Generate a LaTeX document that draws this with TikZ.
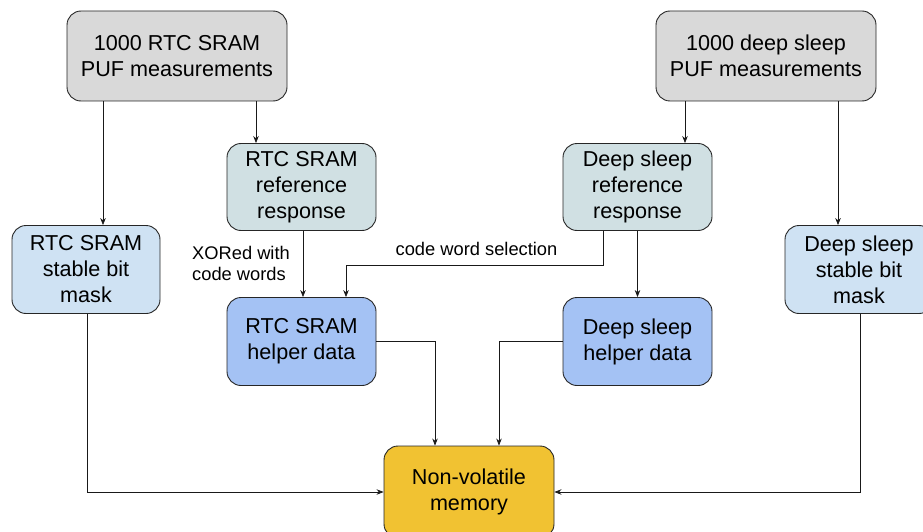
\documentclass[tikz,border=0pt]{standalone}
\usepackage{fontspec}
\setmainfont{Liberation Sans}
\usetikzlibrary{arrows.meta,calc}
\definecolor{pufgray}{HTML}{D9D9D9}
\definecolor{refcyan}{HTML}{D0E0E3}
\definecolor{maskblue}{HTML}{CFE2F3}
\definecolor{helpblue}{HTML}{A4C2F4}
\definecolor{memyellow}{HTML}{F1C232}
\begin{document}
\begin{tikzpicture}[x=1pt,y=-1pt,
  box/.style={draw=black!85, line width=0.9pt, rounded corners=14pt, align=center,
    font=\fontsize{21.6}{26}\selectfont, inner sep=0pt},
  arr/.style={draw=black!90, line width=0.7pt, -{Stealth[length=7pt,width=5.5pt]}},
  lbl/.style={font=\fontsize{18.3}{20.5}\selectfont, inner sep=0pt}]
\useasboundingbox (0,0) rectangle (923,532);
\clip (0,0) rectangle (923,532);

% measurement sources
\node[box, fill=pufgray, minimum width=220pt, minimum height=90pt] (pufA) at (177,56)
  {1000 RTC SRAM\\PUF measurements};
\node[box, fill=pufgray, minimum width=220pt, minimum height=90pt] (pufB) at (766,56)
  {1000 deep sleep\\PUF measurements};

% reference responses
\node[box, fill=refcyan, minimum width=149pt, minimum height=87pt] (refA) at (301.5,187)
  {RTC SRAM\\reference\\response};
\node[box, fill=refcyan, minimum width=149pt, minimum height=87pt] (refB) at (637.5,187)
  {Deep sleep\\reference\\response};

% stable bit masks
\node[box, fill=maskblue, minimum width=148pt, minimum height=88pt] (maskA) at (86,269.5)
  {RTC SRAM\\stable bit\\mask};
\node[box, fill=maskblue, minimum width=148pt, minimum height=88pt] (maskB) at (859,269.5)
  {Deep sleep\\stable bit\\mask};

% helper data
\node[box, fill=helpblue, minimum width=149pt, minimum height=88pt] (helpA) at (301.5,341.5)
  {RTC SRAM\\helper data};
\node[box, fill=helpblue, minimum width=149pt, minimum height=88pt] (helpB) at (637.5,341.5)
  {Deep sleep\\helper data};

% storage
\node[box, fill=memyellow, minimum width=170pt, minimum height=92pt] (nvm) at (469,492)
  {Non-volatile\\memory};

% labels
\node[lbl, align=left, anchor=west] (xorlbl) at (192,263.5) {XORed with\\code words};
\node[lbl] (cwlbl) at (476.5,248.5) {code word selection};

% connectors
\draw[arr] ([xshift=-74pt]pufA.south) -- ([xshift=-74pt]pufA.south |- maskA.north);
\draw[arr] ([xshift=79pt]pufA.south) -- ([xshift=79pt]pufA.south |- refA.north);
\draw[arr] ([xshift=-81pt]pufB.south) -- ([xshift=-81pt]pufB.south |- refB.north);
\draw[arr] ([xshift=72pt]pufB.south) -- ([xshift=72pt]pufB.south |- maskB.north);

\draw[arr] ([xshift=1.5pt]refA.south) -- ([xshift=1.5pt]helpA.north);
\draw[arr] ([xshift=-34.5pt]refB.south) |- (346,265) -- ([xshift=44.5pt]helpA.north);
\draw[arr] (refB.south) -- (helpB.north);

\draw[arr] ([xshift=1pt]maskA.south) |- (nvm.west);
\draw[arr] ([xshift=1pt]maskB.south) |- (nvm.east);
\draw[arr] (helpA.east) -| ([xshift=-34pt]nvm.north);
\draw[arr] (helpB.west) -| ([xshift=30pt]nvm.north);
\end{tikzpicture}
\end{document}
